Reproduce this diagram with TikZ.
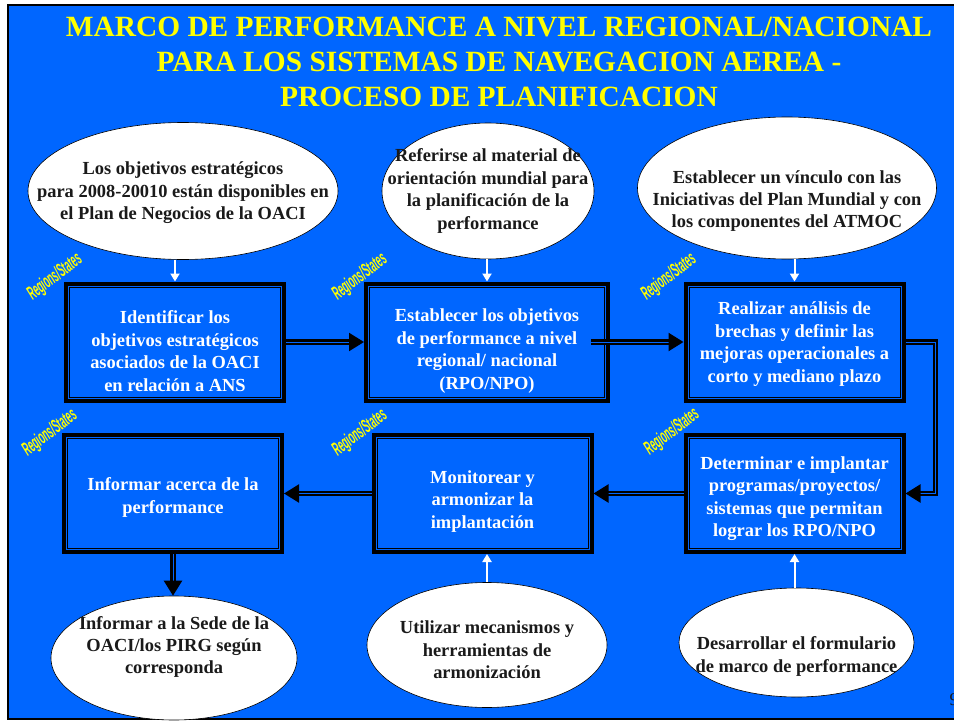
\documentclass[tikz,border=0pt]{standalone}
\usepackage{fontspec}
\usepackage{graphicx}
\setmainfont{Liberation Serif}
\newfontfamily\regionfont{Liberation Sans}
\usetikzlibrary{arrows.meta,shapes.geometric}
\definecolor{slideblue}{RGB}{0,102,255}
\definecolor{titleyellow}{RGB}{255,255,0}
\definecolor{inktext}{RGB}{26,26,26}
\tikzset{
	procbox/.style={rectangle, draw=black, line width=4bp, fill=slideblue, inner sep=0pt, minimum width=218bp, minimum height=117bp,
		path picture={\draw[line width=1bp] ([xshift=3.5bp,yshift=-3.5bp]path picture bounding box.north west) rectangle ([xshift=-3.5bp,yshift=3.5bp]path picture bounding box.south east);}},
	boxtext/.style={align=center, text=white, inner sep=0pt, font=\fontsize{18.5}{22.5}\selectfont\bfseries},
	bubble/.style={ellipse, draw=black, line width=0.6bp, fill=white, inner sep=0pt},
	bubbletext/.style={align=center, text=inktext, inner sep=0pt, font=\fontsize{18.5}{22.5}\selectfont\bfseries},
	regionlabel/.style={rotate=37, text=titleyellow, inner sep=0pt, font=\regionfont\fontsize{19.5}{19.5}\selectfont\bfseries\itshape},
	flow/.style={draw=black, line width=2.2bp, double=slideblue, double distance=1bp, -{Triangle[length=15bp,width=18bp]}},
	feed/.style={draw=white, line width=2bp, -{Triangle[length=8bp,width=9bp]}}
}
\begin{document}
\begin{tikzpicture}[x=1bp, y=1bp]
			%%%%% START %%%%%
			
			\useasboundingbox (0, 0) rectangle (954, -723);
			\fill[white] (0, 0) rectangle (954, -723);
			\draw[line width=2.5bp, fill=slideblue] (8, -5) rectangle (962, -719);
			
			\node[text=titleyellow, align=center, font=\fontsize{29.5}{35}\selectfont\bfseries] (title) at (499, -62) {MARCO DE PERFORMANCE A NIVEL REGIONAL/NACIONAL\\PARA LOS SISTEMAS DE NAVEGACION AEREA -\\PROCESO DE PLANIFICACION};
			
			% ellipses on top
			\node[bubble, minimum width=310bp, minimum height=137bp, label={[bubbletext, yshift=-2bp]center:{Los objetivos estratégicos\\para 2008-20010 están disponibles en\\el Plan de Negocios de la OACI}}] (e1) at (183, -191) {};
			\node[bubble, minimum width=212bp, minimum height=136bp, label={[bubbletext]center:{Referirse al material de\\orientación mundial para\\la planificación de la\\performance}}] (e2) at (488, -191) {};
			\node[bubble, minimum width=299bp, minimum height=142bp, label={[bubbletext, yshift=-13bp]center:{Establecer un vínculo con las\\Iniciativas del Plan Mundial y con\\los componentes del ATMOC}}] (e3) at (787, -188) {};
			
			% process boxes
			\node[procbox, label={[boxtext, yshift=-9bp]center:{Identificar los\\objetivos estratégicos\\asociados de la OACI\\en relación a ANS}}] (b1) at (175, -342) {};
			\node[procbox, minimum width=242bp, label={[boxtext, yshift=-9bp]center:{Establecer los objetivos\\de performance a nivel\\regional/ nacional\\(RPO/NPO)}}] (b2) at (487, -342) {};
			\node[procbox, label={[boxtext, yshift=-2bp]center:{Realizar análisis de\\brechas y definir las\\mejoras operacionales a\\corto y mediano plazo}}] (b3) at (794.5, -342) {};
			\node[procbox, label={[boxtext, yshift=-4bp]center:{Informar acerca de la\\performance}}] (b4) at (173, -493.5) {};
			\node[procbox, label={[boxtext, yshift=-8bp]center:{Monitorear y\\armonizar la\\implantación}}] (b5) at (482.5, -493.5) {};
			\node[procbox, label={[boxtext, yshift=-5bp]center:{Determinar e implantar\\programas/proyectos/\\sistemas que permitan\\lograr los RPO/NPO}}] (b6) at (794.5, -493.5) {};
			
			% ellipses below
			\node[bubble, minimum width=246bp, minimum height=124bp, label={[bubbletext, yshift=11bp]center:{Informar a la Sede de la\\OACI/los PIRG según\\corresponda}}] (e4) at (174, -658) {};
			\node[bubble, minimum width=240bp, minimum height=125bp, label={[bubbletext, yshift=-5bp]center:{Utilizar mecanismos y\\herramientas de\\armonización}}] (e5) at (487, -645) {};
			\node[bubble, minimum width=235bp, minimum height=109bp, label={[bubbletext, yshift=-14bp]center:{Desarrollar el formulario\\de marco de performance}}] (e6) at (796.5, -642.5) {};
			
			\node[regionlabel] (r1) at (55, -277) {\scalebox{0.45}[1]{Regions/States}};
			\node[regionlabel] (r2) at (360, -277) {\scalebox{0.45}[1]{Regions/States}};
			\node[regionlabel] (r3) at (669, -277) {\scalebox{0.45}[1]{Regions/States}};
			\node[regionlabel] (r4) at (50, -433) {\scalebox{0.45}[1]{Regions/States}};
			\node[regionlabel] (r5) at (360, -433) {\scalebox{0.45}[1]{Regions/States}};
			\node[regionlabel] (r6) at (672, -432) {\scalebox{0.45}[1]{Regions/States}};
			
			\draw[feed] (b1.north |- e1.south) -- (b1.north);
			\draw[feed] (b2.north |- e2.south) -- (b2.north);
			\draw[feed] (b3.north |- e3.south) -- (b3.north);
			\draw[feed] (e5.north) -- (e5.north |- b5.south);
			\draw[feed] (b6.south |- e6.north) -- (b6.south);
			
			\draw[flow] (b1.east) -- (b2.west);
			\draw[flow] ([xshift=-19bp]b2.east) -- (b3.west);
			\draw[flow] (b3.east) -- ++(30, 0) |- (b6.east);
			\draw[flow] (b6.west) -- (b5.east);
			\draw[flow] (b5.west) -- (b4.east);
			\draw[flow] (b4.south) -- (b4.south |- e4.north);
			
			\node[anchor=west, text=inktext, font=\fontsize{18}{18}\selectfont] (page) at (946, -700) {9};
			
			%%%%% END %%%%%
\end{tikzpicture}
\end{document}
